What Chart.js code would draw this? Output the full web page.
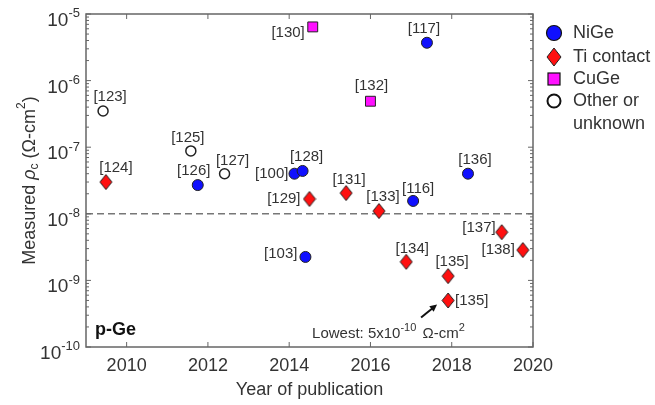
<!DOCTYPE html>
<html>
<head>
<meta charset="utf-8">
<script src="https://cdn.jsdelivr.net/npm/chart.js@4"></script>
<style>
  html, body { margin: 0; padding: 0; background: #fff; }
  canvas { display: block; }
</style>
</head>
<body>
<canvas id="rhoChart" width="655" height="405"></canvas>
<script>
// --- data ---
const niYears = [2011.75, 2014.13, 2014.33, 2014.40, 2017.05, 2017.39, 2018.40];
const niRho   = [2.7e-8, 4.0e-8, 4.4e-8, 2.25e-9, 1.56e-8, 3.7e-6, 4.0e-8];
const niRefs  = ['[126]', '[100]', '[128]', '[103]', '[116]', '[117]', '[136]'];

const tiYears = [2009.49, 2014.50, 2015.40, 2016.21, 2016.88, 2017.91, 2017.91, 2019.23, 2019.75];
const tiRho   = [3.0e-8, 1.67e-8, 2.05e-8, 1.1e-8, 1.9e-9, 1.16e-9, 5.0e-10, 5.3e-9, 2.86e-9];
const tiRefs  = ['[124]', '[129]', '[131]', '[133]', '[134]', '[135]', '[135]', '[137]', '[138]'];

const cuYears = [2014.58, 2016.00];
const cuRho   = [6.4e-6, 4.9e-7];
const cuRefs  = ['[130]', '[132]'];

const otherYears = [2009.42, 2011.58, 2012.41];
const otherRho   = [3.5e-7, 8.8e-8, 4.0e-8];
const otherRefs  = ['[123]', '[125]', '[127]'];

const seriesNames = ['NiGe', 'Ti contact', 'CuGe', 'Other or', 'unknown'];
const xTicks = [2010, 2012, 2014, 2016, 2018, 2020];
const yExps  = [-10, -9, -8, -7, -6, -5];
const refLine = 1e-8;

// label placement (dx, dy, align) relative to each point
const niLab    = [[-4,-14,'c'], [-6,0,'r'], [4,-14,'c'], [-8,-3,'r'], [5,-12,'c'], [-3,-14,'c'], [7,-14,'c']];
const tiLab    = [[10,-14,'c'], [-9,0,'r'], [3,-13,'c'], [4,-14,'c'], [6,-13,'c'], [4,-14,'c'], [7,0,'l'], [-6,-4,'r'], [-8,0,'r']];
const cuLab    = [[-8,6,'r'], [1,-15,'c']];
const otherLab = [[7,-14,'c'], [-3,-13,'c'], [8,-13,'c']];

const FONT = '"Liberation Sans", Arial, sans-serif';
const TXT = '#333';
const AXIS = '#666';

function pts(xs, ys) { return xs.map((x, i) => ({ x: x, y: ys[i] })); }

function diamondCanvas(hw, hh, fill) {
    const c = document.createElement('canvas');
    c.width = hw * 2 + 2; c.height = hh * 2 + 2;
    const g = c.getContext('2d');
    const cx = c.width / 2, cy = c.height / 2;
    g.beginPath();
    g.moveTo(cx, cy - hh); g.lineTo(cx + hw, cy); g.lineTo(cx, cy + hh); g.lineTo(cx - hw, cy); g.closePath();
    g.fillStyle = fill; g.fill();
    g.lineWidth = 1; g.strokeStyle = '#222'; g.stroke();
    return c;
}
const diamond = diamondCanvas(6, 7.5, '#ff1010');

// text with superscript; align 'r' = right edge at x, 'l' = left edge at x
function supText(ctx, base, sup, x, y, size, supSize, align) {
    ctx.font = size + 'px ' + FONT;
    const wb = ctx.measureText(base).width;
    ctx.font = supSize + 'px ' + FONT;
    const ws = ctx.measureText(sup).width;
    let x0 = align === 'r' ? x - wb - ws : (align === 'c' ? x - (wb + ws) / 2 : x);
    ctx.textAlign = 'left';
    ctx.textBaseline = 'alphabetic';
    ctx.font = size + 'px ' + FONT;
    ctx.fillText(base, x0, y);
    ctx.font = supSize + 'px ' + FONT;
    ctx.fillText(sup, x0 + wb, y - size * 0.45);
    return x0 + wb + ws;
}

const decorPlugin = {
    id: 'decor',
    afterDatasetsDraw(chart) {
        const ctx = chart.ctx;
        const a = chart.chartArea;
        const xs = chart.scales.x, ys = chart.scales.y;
        ctx.save();

        // box
        ctx.strokeStyle = AXIS;
        ctx.lineWidth = 1.5;
        ctx.strokeRect(a.left, a.top, a.right - a.left, a.bottom - a.top);

        // x ticks (inward, top and bottom)
        ctx.lineWidth = 1;
        ctx.beginPath();
        xTicks.forEach(t => {
            const px = xs.getPixelForValue(t);
            ctx.moveTo(px, a.bottom); ctx.lineTo(px, a.bottom - 5);
            ctx.moveTo(px, a.top); ctx.lineTo(px, a.top + 5);
        });
        // y ticks, major + minor, left and right
        yExps.forEach(e => {
            for (let m = 1; m <= 9; m++) {
                if (e === -5 && m > 1) break;
                const py = ys.getPixelForValue(m * Math.pow(10, e));
                const len = m === 1 ? 5 : 3;
                ctx.moveTo(a.left, py); ctx.lineTo(a.left + len, py);
                ctx.moveTo(a.right, py); ctx.lineTo(a.right - len, py);
            }
        });
        ctx.stroke();

        // tick labels
        ctx.fillStyle = TXT;
        ctx.font = '18px ' + FONT;
        ctx.textAlign = 'center';
        ctx.textBaseline = 'middle';
        xTicks.forEach(t => ctx.fillText(String(t), xs.getPixelForValue(t), a.bottom + 19));
        yExps.forEach(e => {
            const py = ys.getPixelForValue(Math.pow(10, e));
            supText(ctx, '10', String(e), a.left - 6, py + 12, 19, 13, 'r');
        });

        // axis titles
        ctx.font = '18px ' + FONT;
        ctx.textAlign = 'center';
        ctx.textBaseline = 'middle';
        ctx.fillText('Year of publication', (a.left + a.right) / 2, 390);

        ctx.save();
        ctx.translate(30, (a.top + a.bottom) / 2);
        ctx.rotate(-Math.PI / 2);
        const parts = [
            ['Measured ', '18px ' + FONT, 0],
            ['\u03C1', 'italic 18px ' + FONT, 0],
            ['c', '12px ' + FONT, 5],
            [' (\u03A9-cm', '18px ' + FONT, 0],
            ['2', '12px ' + FONT, -8],
            [')', '18px ' + FONT, 0]
        ];
        let tw = 0;
        parts.forEach(p => { ctx.font = p[1]; tw += ctx.measureText(p[0]).width; });
        let cx = -tw / 2;
        ctx.textAlign = 'left';
        ctx.textBaseline = 'middle';
        parts.forEach(p => {
            ctx.font = p[1];
            ctx.fillText(p[0], cx, p[2]);
            cx += ctx.measureText(p[0]).width;
        });
        ctx.restore();

        // point labels
        ctx.font = '15px ' + FONT;
        ctx.textBaseline = 'middle';
        const groups = [[niRefs, niLab, 0], [tiRefs, tiLab, 1], [cuRefs, cuLab, 2], [otherRefs, otherLab, 3]];
        groups.forEach(([refs, lab, di]) => {
            const meta = chart.getDatasetMeta(di);
            refs.forEach((r, i) => {
                const el = meta.data[i];
                const l = lab[i];
                ctx.textAlign = l[2] === 'c' ? 'center' : (l[2] === 'r' ? 'right' : 'left');
                ctx.fillText(r, el.x + l[0], el.y + l[1]);
            });
        });

        // "p-Ge"
        ctx.font = 'bold 18px ' + FONT;
        ctx.textAlign = 'left';
        ctx.fillStyle = '#111';
        ctx.fillText('p-Ge', a.left + 9, a.bottom - 17);

        // lowest annotation + arrow
        const low = chart.getDatasetMeta(1).data[6];
        ctx.fillStyle = TXT;
        const end = supText(ctx, 'Lowest: 5x10', '-10', low.x - 136, a.bottom - 9, 15, 11, 'l');
        ctx.font = '15px ' + FONT;
        const w1 = ctx.measureText(' \u03A9-cm').width;
        supText(ctx, ' \u03A9-cm', '2', end + 2, a.bottom - 9, 15, 11, 'l');
        void w1;

        const tx = low.x - 27, ty = low.y + 17, hx = low.x - 11, hy = low.y + 4;
        ctx.strokeStyle = '#111';
        ctx.fillStyle = '#111';
        ctx.lineWidth = 2;
        ctx.beginPath(); ctx.moveTo(tx, ty); ctx.lineTo(hx - 3, hy + 2.5); ctx.stroke();
        const ang = Math.atan2(hy - ty, hx - tx);
        ctx.beginPath();
        ctx.moveTo(hx, hy);
        ctx.lineTo(hx - 8 * Math.cos(ang - 0.45), hy - 8 * Math.sin(ang - 0.45));
        ctx.lineTo(hx - 8 * Math.cos(ang + 0.45), hy - 8 * Math.sin(ang + 0.45));
        ctx.closePath(); ctx.fill();

        // legend
        const lx = 554, tx0 = 573;
        const ly = [33, 57, 79, 101, 124];
        ctx.lineWidth = 1.2;
        ctx.strokeStyle = '#111';
        ctx.beginPath(); ctx.arc(lx, ly[0], 7.5, 0, Math.PI * 2);
        ctx.fillStyle = '#1010ff'; ctx.fill(); ctx.stroke();
        ctx.drawImage(diamondCanvas(7, 9, '#ff1010'), lx - 8, ly[1] - 10);
        ctx.fillStyle = '#ff10ff';
        ctx.fillRect(lx - 6, ly[2] - 6, 12, 12);
        ctx.strokeRect(lx - 6, ly[2] - 6, 12, 12);
        ctx.lineWidth = 2;
        ctx.beginPath(); ctx.arc(lx, ly[3], 6.5, 0, Math.PI * 2);
        ctx.fillStyle = '#fff'; ctx.fill(); ctx.stroke();

        ctx.fillStyle = TXT;
        ctx.font = '18px ' + FONT;
        ctx.textAlign = 'left';
        ctx.textBaseline = 'middle';
        seriesNames.forEach((s, i) => ctx.fillText(s, tx0, ly[i]));

        ctx.restore();
    }
};

new Chart(document.getElementById('rhoChart'), {
    type: 'scatter',
    data: {
        datasets: [
            { label: 'NiGe', data: pts(niYears, niRho), pointStyle: 'circle', pointRadius: 5.5,
              backgroundColor: '#1010ff', borderColor: '#222', borderWidth: 1 },
            { label: 'Ti contact', data: pts(tiYears, tiRho), pointStyle: diamond },
            { label: 'CuGe', data: pts(cuYears, cuRho), pointStyle: 'rect', pointRadius: 7,
              backgroundColor: '#ff10ff', borderColor: '#222', borderWidth: 1 },
            { label: 'Other or unknown', data: pts(otherYears, otherRho), pointStyle: 'circle', pointRadius: 5,
              backgroundColor: '#fff', borderColor: '#222', borderWidth: 1.5 },
            { type: 'line', label: 'ref', data: [{ x: 2009, y: refLine }, { x: 2020, y: refLine }],
              borderColor: '#777', borderWidth: 1.5, borderDash: [7, 4], pointRadius: 0, order: 10 }
        ]
    },
    options: {
        responsive: false,
        animation: false,
        devicePixelRatio: 1,
        layout: { padding: { left: 86, right: 122, top: 14, bottom: 58 } },
        plugins: { legend: { display: false }, tooltip: { enabled: false } },
        scales: {
            x: { type: 'linear', min: 2009, max: 2020, display: false },
            y: { type: 'logarithmic', min: 1e-10, max: 1e-5, display: false }
        },
        elements: { point: { hoverRadius: 6 } },
        clip: false
    },
    plugins: [decorPlugin]
});
</script>
</body>
</html>
